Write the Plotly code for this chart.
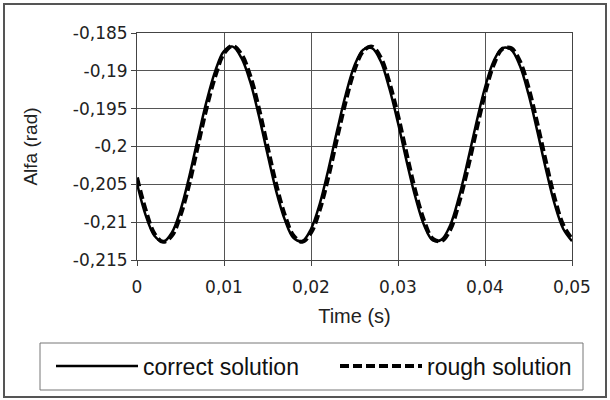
import plotly.graph_objects as go

time_s = [0.000, 0.001, 0.002, 0.003, 0.004, 0.005, 0.006, 0.007, 0.008, 0.009,
          0.010, 0.011, 0.012, 0.013, 0.014, 0.015, 0.016, 0.017, 0.018, 0.019,
          0.020, 0.021, 0.022, 0.023, 0.024, 0.025, 0.026, 0.027, 0.028, 0.029,
          0.030, 0.031, 0.032, 0.033, 0.034, 0.035, 0.036, 0.037, 0.038, 0.039,
          0.040, 0.041, 0.042, 0.043, 0.044, 0.045, 0.046, 0.047, 0.048, 0.049,
          0.050]

alfa_correct = [-0.2049, -0.2091, -0.2118, -0.2126, -0.2114, -0.2084, -0.2040, -0.1989, -0.1940, -0.1900,
                -0.1874, -0.1868, -0.1883, -0.1914, -0.1959, -0.2010, -0.2059, -0.2097, -0.2121, -0.2125,
                -0.2109, -0.2076, -0.2030, -0.1979, -0.1931, -0.1893, -0.1872, -0.1870, -0.1887, -0.1923,
                -0.1969, -0.2020, -0.2067, -0.2104, -0.2124, -0.2123, -0.2104, -0.2067, -0.2020, -0.1969,
                -0.1922, -0.1887, -0.1870, -0.1872, -0.1893, -0.1931, -0.1979, -0.2030, -0.2076, -0.2109,
                -0.2125]

alfa_rough = [-0.2041, -0.2084, -0.2115, -0.2126, -0.2118, -0.2091, -0.2050, -0.1999, -0.1949, -0.1907,
              -0.1877, -0.1867, -0.1878, -0.1906, -0.1949, -0.2000, -0.2050, -0.2091, -0.2118, -0.2126,
              -0.2114, -0.2084, -0.2040, -0.1989, -0.1940, -0.1899, -0.1874, -0.1868, -0.1882, -0.1915,
              -0.1959, -0.2010, -0.2059, -0.2098, -0.2122, -0.2125, -0.2110, -0.2075, -0.2030, -0.1979,
              -0.1930, -0.1892, -0.1871, -0.1870, -0.1887, -0.1922, -0.1969, -0.2020, -0.2068, -0.2104,
              -0.2122]

x_tick_vals = [0, 0.01, 0.02, 0.03, 0.04, 0.05]
x_tick_labels = ["0", "0,01", "0,02", "0,03", "0,04", "0,05"]
y_tick_vals = [-0.215, -0.21, -0.205, -0.2, -0.195, -0.19, -0.185]
y_tick_labels = ["-0,215", "-0,21", "-0,205", "-0,2", "-0,195", "-0,19", "-0,185"]

W, H = 610, 400
px_l, px_r, px_t, px_b = 137, 572, 33, 260

fig = go.Figure()
fig.add_trace(go.Scatter(
    x=time_s, y=alfa_correct, mode="lines", name="correct solution", legend="legend",
    line=dict(color="#000000", width=2.5, shape="spline"),
))
fig.add_trace(go.Scatter(
    x=time_s, y=alfa_rough, mode="lines", name="rough solution", legend="legend2",
    line=dict(color="#000000", width=4, shape="spline", dash="9px,4px"),
))

tick_font = dict(family="DejaVu Sans", size=17, color="#222222")
title_font = dict(family="Liberation Sans, Arial", size=20, color="#222222")
legend_font = dict(family="Liberation Sans, Arial", size=23, color="#111111")

fig.update_layout(
    width=W, height=H,
    margin=dict(l=0, r=0, t=0, b=0),
    paper_bgcolor="white", plot_bgcolor="white",
    showlegend=True,
    legend=dict(
        x=51 / W, xanchor="left", y=1 - 366 / H, yanchor="middle",
        font=legend_font, bgcolor="rgba(0,0,0,0)", borderwidth=0, itemwidth=82,
    ),
    legend2=dict(
        x=335 / W, xanchor="left", y=1 - 366 / H, yanchor="middle",
        font=legend_font, bgcolor="rgba(0,0,0,0)", borderwidth=0, itemwidth=82,
    ),
    xaxis=dict(
        domain=[px_l / W, px_r / W], range=[0, 0.05],
        tickvals=x_tick_vals, ticktext=x_tick_labels, tickfont=tick_font,
        ticks="outside", ticklen=5, tickcolor="#444444", ticklabelstandoff=7,
        showgrid=True, gridcolor="#555555", gridwidth=1,
        showline=True, linecolor="#444444", linewidth=1, mirror=True,
        zeroline=False, automargin=False,
        title=dict(text="Time (s)", font=title_font, standoff=12),
    ),
    yaxis=dict(
        domain=[1 - px_b / H, 1 - px_t / H], range=[-0.215, -0.185],
        tickvals=y_tick_vals, ticktext=y_tick_labels, tickfont=tick_font,
        ticks="outside", ticklen=5, tickcolor="#444444",
        showgrid=True, gridcolor="#555555", gridwidth=1,
        showline=True, linecolor="#444444", linewidth=1, mirror=True,
        zeroline=False, automargin=False,
        title=dict(text="Alfa (rad)", font=dict(family="Liberation Sans, Arial", size=19, color="#222222"), standoff=30),
    ),
    shapes=[
        dict(type="rect", xref="paper", yref="paper",
             x0=4 / W, x1=606 / W, y0=1 - 397 / H, y1=1 - 4 / H,
             line=dict(color="#555555", width=2), fillcolor="rgba(0,0,0,0)", layer="below"),
        dict(type="rect", xref="paper", yref="paper",
             x0=40 / W, x1=583 / W, y0=1 - 390 / H, y1=1 - 343 / H,
             line=dict(color="#777777", width=1), fillcolor="rgba(0,0,0,0)", layer="below"),
    ],
)

fig.write_html("out.html", config={"displayModeBar": False},
               post_script="document.body.style.margin='0';")
